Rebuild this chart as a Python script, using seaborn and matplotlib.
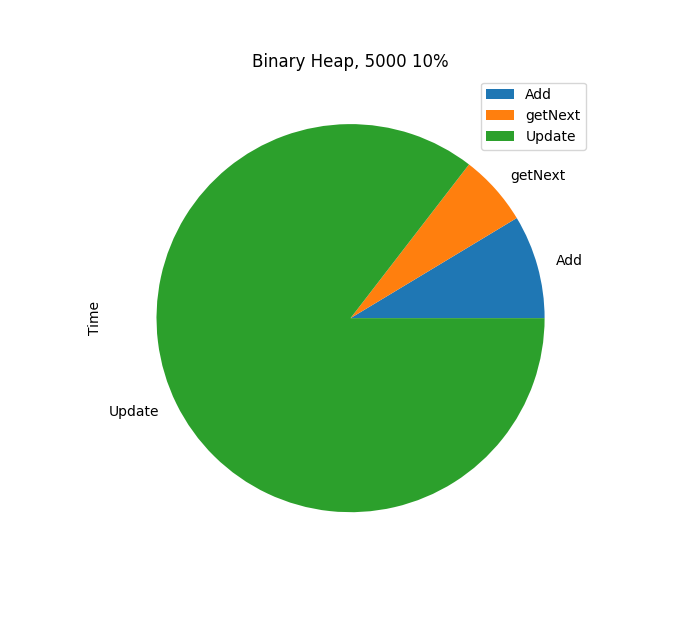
import pandas as pd
import matplotlib
matplotlib.use("Agg")
import matplotlib.pyplot as plt
import seaborn as sns

# DATA
operations = ["Add", "getNext", "Update"]
times = [8.63, 5.92, 85.45]

colors = sns.color_palette("tab10", 3)

df = pd.DataFrame({"Time": times}, index=operations)

fig, ax = plt.subplots(figsize=(6.84, 6.3), dpi=100)
df.plot.pie(y="Time", ax=ax, colors=colors, legend=True)
ax.set_title("Binary Heap, 5000 10%")
ax.set_ylabel("Time")
ax.legend(loc="upper right")

plt.savefig("out.png", dpi=100)
plt.close()
